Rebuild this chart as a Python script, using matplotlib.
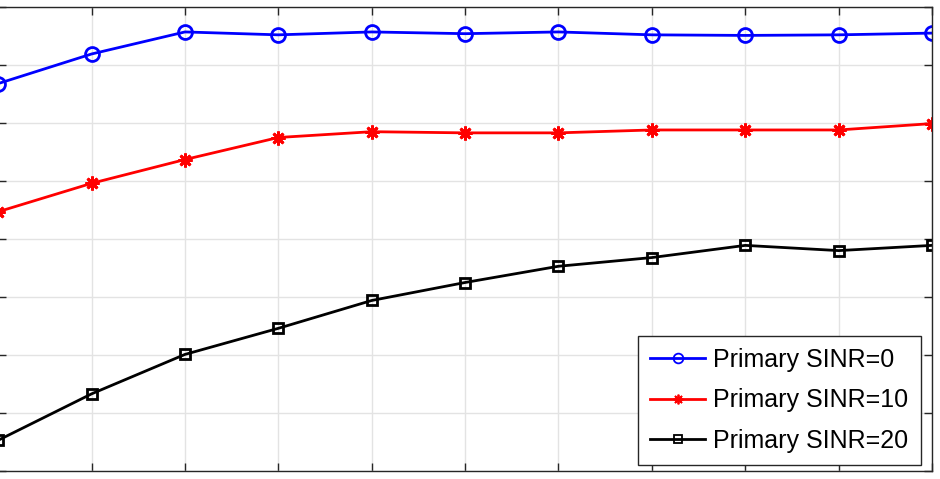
import numpy as np
import matplotlib
matplotlib.use("Agg")
import matplotlib.pyplot as plt

x = np.arange(1, 12)

sinr0 = [6.68, 7.19, 7.57, 7.52, 7.57, 7.54, 7.57, 7.52, 7.51, 7.52, 7.55]
sinr10 = [4.47, 4.96, 5.37, 5.75, 5.85, 5.83, 5.83, 5.88, 5.88, 5.88, 5.99]
sinr20 = [0.53, 1.33, 2.01, 2.46, 2.94, 3.25, 3.53, 3.68, 3.89, 3.80, 3.89]

labels = ["Primary SINR=0", "Primary SINR=10", "Primary SINR=20"]

plt.rcParams['font.family'] = ['Liberation Sans', 'DejaVu Sans']

fig = plt.figure(figsize=(9.4, 4.79), dpi=100)
ax = fig.add_axes([-1.8 / 940, 8 / 479, 933.8 / 940, 464 / 479])

ax.plot(x, sinr0, color='#0000ff', linestyle='-', linewidth=2, marker='o',
        markersize=10, markerfacecolor='none', markeredgewidth=2, label=labels[0])
ax.plot(x, sinr10, color='#ff0000', linestyle='-', linewidth=2, marker=(8, 2, 0),
        markersize=10, markeredgewidth=2, label=labels[1])
ax.plot(x, sinr20, color='#000000', linestyle='-', linewidth=2, marker='s',
        markersize=7.5, markerfacecolor='none', markeredgewidth=2, label=labels[2])

ax.set_xlim(1, 11)
ax.set_ylim(0, 8)
ax.set_xticks(x)
ax.set_yticks(np.arange(0, 9))
ax.set_xticklabels([])
ax.set_yticklabels([])
ax.tick_params(direction='in', top=True, right=True, length=6, width=1, color='#262626')
ax.grid(True, color='#e3e3e3', linewidth=1)
ax.set_axisbelow(True)
for s in ax.spines.values():
    s.set_color('#262626')
    s.set_linewidth(1)

leg = ax.legend(loc='lower right', bbox_to_anchor=(0.9878, 0.0129), borderaxespad=0,
                fontsize=18, fancybox=False, edgecolor='#262626', framealpha=1,
                handlelength=2.2, handletextpad=0.3, labelspacing=0.65,
                borderpad=0.5, markerscale=0.7)
leg.get_frame().set_linewidth(1)
for line in leg.get_lines():
    line.set_markeredgewidth(1.3)

fig.savefig("out.png", dpi=100)
